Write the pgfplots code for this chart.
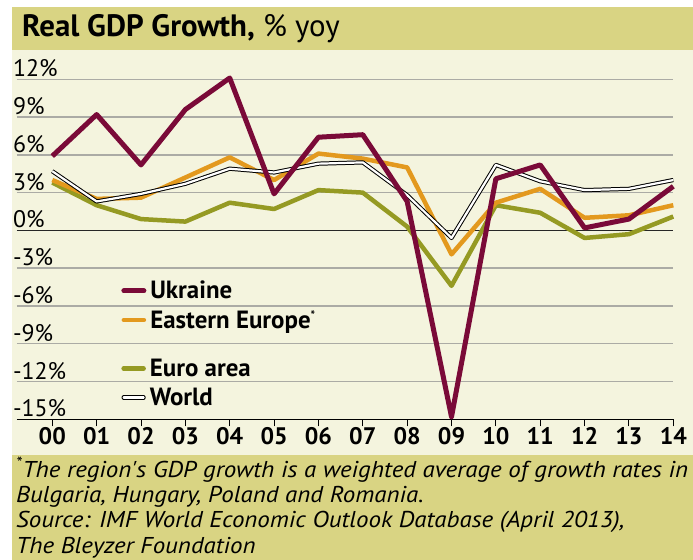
\documentclass[border=0pt]{standalone}
\usepackage{pgfplots}
\pgfplotsset{compat=1.18}
\usepackage{fontspec}
\setmainfont{PT Sans}
\newfontfamily\condfont{PT Sans}
\newfontfamily\footfont{PT Sans}[FakeStretch=1.09]
\definecolor{ukr}{HTML}{7A0A38}
\definecolor{eeur}{HTML}{E3991E}
\definecolor{euro}{HTML}{959A23}
\definecolor{cream}{HTML}{F4F4DE}
\definecolor{khaki}{HTML}{D9D483}
\definecolor{gridc}{HTML}{ABABA5}
\pgfplotsset{
  frame/.style={at={(16.8bp,140.7bp)}, anchor=south west,
    width=656.5bp, height=352.6bp, scale only axis,
    xmin=-0.8, xmax=14, ymin=-15, ymax=13, clip=false},
  mylegend/.style={
    legend cell align=left,
    legend image code/.code={\draw[##1, line cap=round] (0bp,0bp) -- (20bp,0bp);},
    legend style={at={(0.159,#1)}, anchor=north west, draw=none, fill=none,
      inner sep=0pt, row sep=8bp, column sep=3bp,
      nodes={inner sep=1bp},
      font=\fontsize{25}{28}\selectfont\bfseries}},
}
\begin{document}
\begin{tikzpicture}
\useasboundingbox (0bp,0bp) rectangle (693bp,560bp);
\fill[cream] (12bp,105bp) rectangle (693bp,510bp);
\fill[khaki] (12bp,510bp) rectangle (693bp,553bp);
\fill[khaki] (12bp,0bp) rectangle (693bp,105bp);
\node[anchor=base west, inner sep=0, font=\condfont\fontsize{31}{36}\selectfont] at (22bp,523bp) {\textbf{Real GDP Growth,} \% yoy};
\node[anchor=base west, inner sep=0, align=left, font=\footfont\fontsize{23}{25.3}\selectfont\itshape] at (16bp,7bp)
 {\textsuperscript{*}The region's GDP growth is a weighted average of growth rates in\\
  Bulgaria, Hungary, Poland and Romania.\\
  Source: IMF World Economic Outlook Database (April 2013),\\
  The Bleyzer Foundation};
\begin{axis}[
  frame,
  axis x line*=bottom, axis y line*=left,
  y axis line style={draw=none},
  x axis line style={black, line width=1.2bp},
  ytick={-15,-12,...,12},
  yticklabel={\pgfmathprintnumber{\tick}\%},
  yticklabel style={anchor=south west, inner sep=0pt, xshift=3bp, yshift=2bp, font=\fontsize{24}{26}\selectfont},
  /pgf/number format/assume math mode=true,
  ytick style={draw=none},
  ymajorgrids, grid style={gridc, line width=1.5bp},
  extra y ticks={0}, extra y tick labels={},
  extra y tick style={grid style={black!85, line width=1.3bp}},
  xtick={0,...,14},
  xticklabels={00,01,02,03,04,05,06,07,08,09,10,11,12,13,14},
  xticklabel style={font=\fontsize{24}{26}\selectfont\bfseries, inner sep=1bp},
  tick align=outside, major tick length=7bp,
  xtick style={black, line width=1bp},
  mylegend=0.395,
  line join=round,
]
\addlegendimage{ukr, line width=5bp}
\addlegendentry{Ukraine}
\addlegendimage{eeur, line width=4.5bp}
\addlegendentry{Eastern Europe\textsuperscript{\fontsize{12}{12}\selectfont*}}

\addplot[euro, line width=4.5bp, forget plot] coordinates {
(0,3.8) (1,2.0) (2,0.9) (3,0.7) (4,2.2) (5,1.7) (6,3.2) (7,3.0) (8,0.3) (9,-4.4) (10,2.0) (11,1.4) (12,-0.6) (13,-0.3) (14,1.1)};
\addplot[eeur, line width=4.5bp, forget plot] coordinates {
(0,4.0) (1,2.5) (2,2.6) (3,4.2) (4,5.8) (5,4.0) (6,6.1) (7,5.7) (8,5.0) (9,-1.9) (10,2.2) (11,3.3) (12,1.0) (13,1.2) (14,2.0)};
\addplot[draw=black, line width=1bp, double=white, double distance=2.2bp, forget plot] coordinates {
(0,4.7) (1,2.3) (2,2.9) (3,3.7) (4,4.9) (5,4.6) (6,5.3) (7,5.4) (8,2.8) (9,-0.6) (10,5.2) (11,3.9) (12,3.2) (13,3.3) (14,4.0)};
\addplot[ukr, line width=5bp, forget plot] coordinates {
(0,5.9) (1,9.2) (2,5.2) (3,9.6) (4,12.1) (5,2.9) (6,7.4) (7,7.6) (8,2.3) (9,-14.8) (10,4.1) (11,5.2) (12,0.2) (13,0.9) (14,3.5)};
\end{axis}
\begin{axis}[frame, hide axis, mylegend=0.174]
\addlegendimage{euro, line width=4.5bp}
\addlegendentry{Euro area}
\addlegendimage{draw=black, line width=1bp, double=white, double distance=2.2bp}
\addlegendentry{World}
\end{axis}
\end{tikzpicture}
\end{document}
